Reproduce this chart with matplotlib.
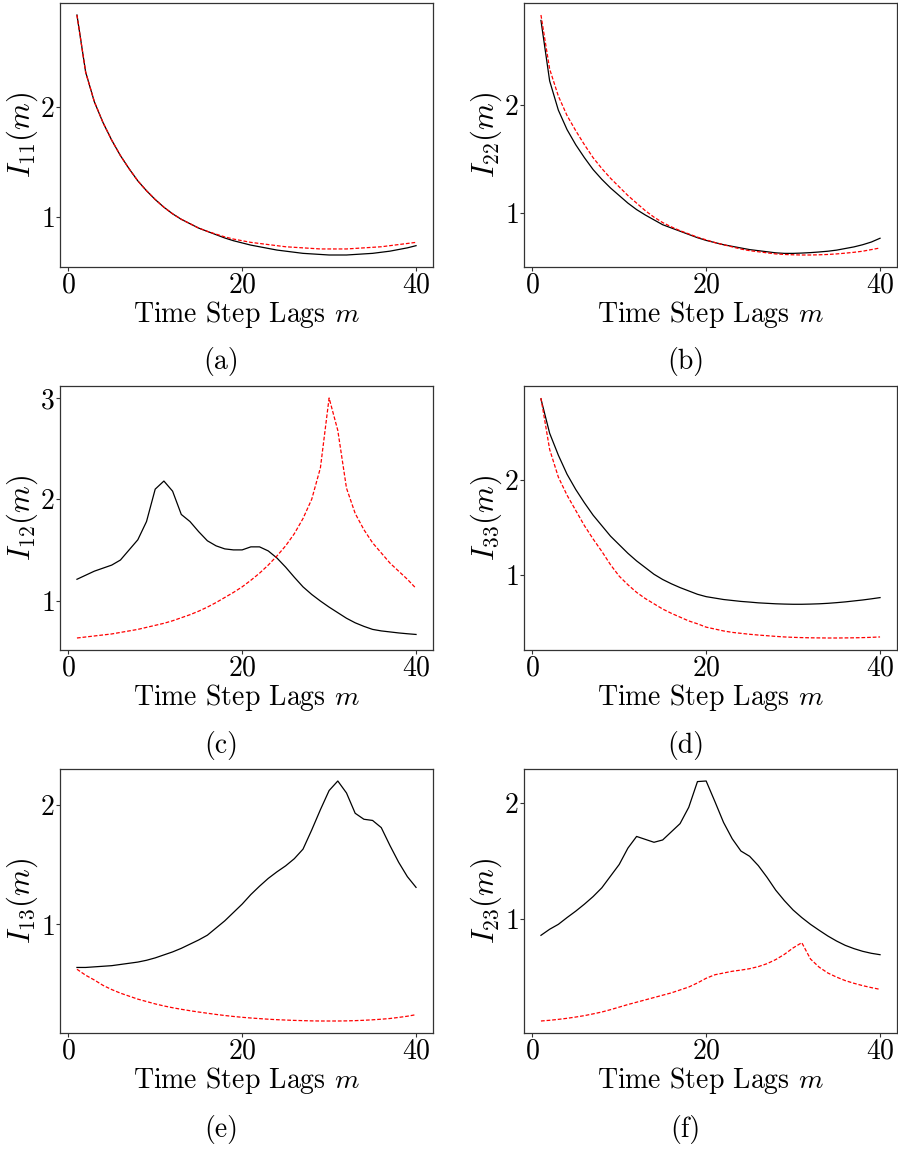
import matplotlib
matplotlib.use("Agg")
import matplotlib.pyplot as plt
import numpy as np

plt.rcParams['font.family'] = 'serif'
plt.rcParams['font.serif'] = ['cmr10']
plt.rcParams['mathtext.fontset'] = 'cm'
plt.rcParams['axes.formatter.use_mathtext'] = True

# lags 1..40
lags = np.arange(1, 41)

# (a) I_11
i11_emp = [2.84, 2.32, 2.05, 1.86, 1.70, 1.56, 1.44, 1.33, 1.24, 1.16,
           1.09, 1.03, 0.98, 0.94, 0.90, 0.87, 0.84, 0.81, 0.785, 0.765,
           0.745, 0.73, 0.715, 0.70, 0.69, 0.68, 0.67, 0.665, 0.66, 0.655,
           0.655, 0.655, 0.66, 0.665, 0.67, 0.68, 0.69, 0.705, 0.72, 0.74]
i11_mod = [2.84, 2.32, 2.05, 1.86, 1.70, 1.56, 1.44, 1.33, 1.24, 1.16,
           1.09, 1.03, 0.98, 0.94, 0.90, 0.87, 0.845, 0.82, 0.80, 0.785,
           0.77, 0.76, 0.75, 0.74, 0.73, 0.725, 0.72, 0.715, 0.71, 0.71,
           0.71, 0.71, 0.715, 0.72, 0.725, 0.73, 0.74, 0.75, 0.76, 0.77]

# (b) I_22
i22_emp = [2.78, 2.22, 1.95, 1.77, 1.63, 1.51, 1.40, 1.31, 1.23, 1.16,
           1.09, 1.03, 0.98, 0.935, 0.89, 0.86, 0.83, 0.80, 0.77, 0.745,
           0.725, 0.705, 0.69, 0.675, 0.66, 0.65, 0.64, 0.63, 0.625, 0.625,
           0.628, 0.632, 0.638, 0.645, 0.655, 0.67, 0.685, 0.705, 0.73, 0.765]
i22_mod = [2.83, 2.33, 2.08, 1.90, 1.76, 1.63, 1.51, 1.41, 1.32, 1.24,
           1.16, 1.09, 1.02, 0.96, 0.91, 0.87, 0.835, 0.805, 0.775, 0.75,
           0.725, 0.705, 0.685, 0.665, 0.65, 0.64, 0.63, 0.62, 0.615, 0.612,
           0.61, 0.61, 0.612, 0.615, 0.62, 0.627, 0.635, 0.645, 0.66, 0.675]

# (c) I_12
i12_emp = [1.21, 1.25, 1.29, 1.32, 1.35, 1.40, 1.50, 1.60, 1.78, 2.10,
           2.18, 2.08, 1.85, 1.78, 1.68, 1.59, 1.54, 1.51, 1.50, 1.50,
           1.53, 1.53, 1.49, 1.42, 1.33, 1.23, 1.135, 1.06, 0.995, 0.935,
           0.88, 0.825, 0.78, 0.745, 0.715, 0.70, 0.69, 0.68, 0.672, 0.665]
i12_mod = [0.63, 0.64, 0.65, 0.66, 0.67, 0.685, 0.70, 0.715, 0.735, 0.755,
           0.775, 0.80, 0.83, 0.86, 0.895, 0.935, 0.98, 1.03, 1.08, 1.135,
           1.20, 1.27, 1.35, 1.44, 1.54, 1.66, 1.81, 2.00, 2.31, 3.00,
           2.68, 2.11, 1.86, 1.70, 1.57, 1.47, 1.37, 1.29, 1.21, 1.12]

# (d) I_33
i33_emp = [2.85, 2.49, 2.26, 2.06, 1.90, 1.76, 1.63, 1.52, 1.41, 1.32,
           1.23, 1.15, 1.08, 1.01, 0.955, 0.91, 0.87, 0.835, 0.80, 0.775,
           0.76, 0.745, 0.735, 0.725, 0.718, 0.71, 0.705, 0.70, 0.697, 0.695,
           0.695, 0.697, 0.70, 0.705, 0.712, 0.72, 0.73, 0.74, 0.752, 0.765]
i33_mod = [2.86, 2.32, 2.03, 1.84, 1.68, 1.52, 1.38, 1.25, 1.11, 0.99,
           0.90, 0.82, 0.755, 0.70, 0.645, 0.60, 0.56, 0.52, 0.49, 0.455,
           0.435, 0.415, 0.40, 0.39, 0.38, 0.372, 0.365, 0.358, 0.352, 0.348,
           0.345, 0.343, 0.342, 0.341, 0.341, 0.342, 0.343, 0.345, 0.348, 0.352]

# (e) I_13
i13_emp = [0.64, 0.64, 0.645, 0.65, 0.655, 0.665, 0.675, 0.685, 0.70, 0.72,
           0.745, 0.77, 0.80, 0.835, 0.87, 0.91, 0.97, 1.03, 1.10, 1.17,
           1.25, 1.32, 1.385, 1.44, 1.49, 1.55, 1.63, 1.79, 1.96, 2.12,
           2.20, 2.10, 1.93, 1.88, 1.87, 1.81, 1.66, 1.52, 1.40, 1.31]
i13_mod = [0.625, 0.575, 0.535, 0.49, 0.455, 0.425, 0.40, 0.375, 0.355, 0.335,
           0.318, 0.303, 0.29, 0.278, 0.267, 0.257, 0.247, 0.238, 0.23, 0.223,
           0.217, 0.212, 0.207, 0.203, 0.20, 0.197, 0.195, 0.193, 0.192, 0.192,
           0.192, 0.193, 0.195, 0.198, 0.202, 0.207, 0.213, 0.222, 0.232, 0.245]

# (f) I_23
i23_emp = [0.863, 0.915, 0.957, 1.015, 1.07, 1.13, 1.195, 1.27, 1.37, 1.47,
           1.61, 1.71, 1.685, 1.66, 1.68, 1.75, 1.82, 1.96, 2.18, 2.185,
           2.01, 1.83, 1.69, 1.585, 1.54, 1.46, 1.36, 1.25, 1.16, 1.08,
           1.015, 0.957, 0.906, 0.857, 0.814, 0.777, 0.749, 0.726, 0.709, 0.697]
i23_mod = [0.129, 0.135, 0.143, 0.152, 0.163, 0.175, 0.19, 0.206, 0.226, 0.248,
           0.27, 0.29, 0.31, 0.33, 0.35, 0.37, 0.395, 0.42, 0.455, 0.495,
           0.525, 0.54, 0.555, 0.565, 0.577, 0.595, 0.62, 0.655, 0.70, 0.755,
           0.80, 0.66, 0.59, 0.54, 0.505, 0.475, 0.452, 0.432, 0.415, 0.40]

panels = [
    ('11', i11_emp, i11_mod, '(a)'),
    ('22', i22_emp, i22_mod, '(b)'),
    ('12', i12_emp, i12_mod, '(c)'),
    ('33', i33_emp, i33_mod, '(d)'),
    ('13', i13_emp, i13_mod, '(e)'),
    ('23', i23_emp, i23_mod, '(f)'),
]

W, H = 898, 1151
fig = plt.figure(figsize=(W / 100, H / 100), dpi=100)

# axes boxes in pixels: left, top, right, bottom
boxes = [(60, 3, 433, 267), (524, 3, 897, 267),
         (60, 386, 433, 650), (524, 386, 897, 650),
         (60, 769, 433, 1033), (524, 769, 897, 1033)]
captions = [(221, 362), (686, 362), (221, 745), (686, 745), (221, 1129), (685, 1129)]

for (idx, emp, mod, cap), (l, t, r, b), (cx, cy) in zip(panels, boxes, captions):
    ax = fig.add_axes([l / W, 1 - b / H, (r - l) / W, (b - t) / H])
    ax.plot(lags, emp, color='black', lw=0.9)
    ax.plot(lags, mod, color='red', lw=0.9, ls=(0, (3, 1.5)))
    ax.set_xticks([0, 20, 40])
    ax.set_xlabel('Time Step Lags $m$', fontsize=20, labelpad=0)
    ax.set_ylabel(r'$I_{%s}(m)$' % idx, fontsize=22, labelpad=0)
    ax.tick_params(labelsize=20, length=3, width=0.8, color='0.2', pad=1)
    for sp in ax.spines.values():
        sp.set_color('0.2')
        sp.set_linewidth(0.9)
    lo, hi = ax.get_ylim()
    ax.set_yticks([v for v in [1, 2, 3] if lo <= v <= hi])
    fig.text(cx / W, 1 - cy / H, cap, fontsize=20, ha='center', va='center')

fig.savefig('out.png', dpi=100)
